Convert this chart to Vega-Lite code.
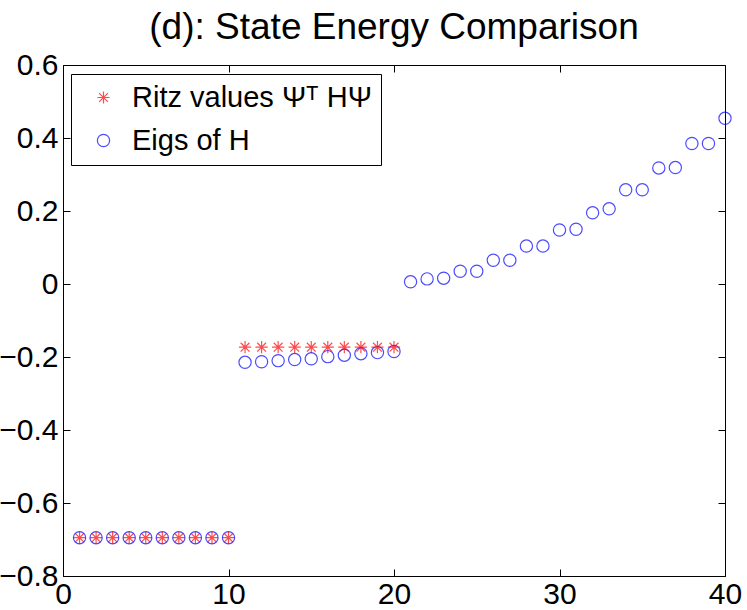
{
  "$schema": "https://vega.github.io/schema/vega-lite/v6.json",
  "width": 662,
  "height": 511,
  "autosize": {"type": "none"},
  "padding": {"left": 63, "top": 65, "right": 22, "bottom": 34},
  "background": "white",
  "title": {"text": "(d): State Energy Comparison", "fontSize": 37, "font": "Liberation Sans", "fontWeight": "normal", "color": "black", "offset": 3, "anchor": "middle"},
  "config": {
    "view": {"stroke": "black", "strokeWidth": 1},
    "font": "Liberation Sans",
    "axis": {"grid": false, "domainColor": "black", "tickColor": "black", "labelColor": "black", "labelFontSize": 30, "labelFont": "Liberation Sans", "tickSize": -7, "labelPadding": 12, "labelFlush": false, "labelOverlap": false, "title": null}
  },
  "data": {"values": [
    {"x": 1, "v": -0.695, "s": "Eigs of H"},
    {"x": 2, "v": -0.695, "s": "Eigs of H"},
    {"x": 3, "v": -0.695, "s": "Eigs of H"},
    {"x": 4, "v": -0.695, "s": "Eigs of H"},
    {"x": 5, "v": -0.695, "s": "Eigs of H"},
    {"x": 6, "v": -0.695, "s": "Eigs of H"},
    {"x": 7, "v": -0.695, "s": "Eigs of H"},
    {"x": 8, "v": -0.695, "s": "Eigs of H"},
    {"x": 9, "v": -0.695, "s": "Eigs of H"},
    {"x": 10, "v": -0.695, "s": "Eigs of H"},
    {"x": 11, "v": -0.2145, "s": "Eigs of H"},
    {"x": 12, "v": -0.213, "s": "Eigs of H"},
    {"x": 13, "v": -0.210, "s": "Eigs of H"},
    {"x": 14, "v": -0.207, "s": "Eigs of H"},
    {"x": 15, "v": -0.205, "s": "Eigs of H"},
    {"x": 16, "v": -0.199, "s": "Eigs of H"},
    {"x": 17, "v": -0.195, "s": "Eigs of H"},
    {"x": 18, "v": -0.191, "s": "Eigs of H"},
    {"x": 19, "v": -0.188, "s": "Eigs of H"},
    {"x": 20, "v": -0.185, "s": "Eigs of H"},
    {"x": 21, "v": 0.006, "s": "Eigs of H"},
    {"x": 22, "v": 0.014, "s": "Eigs of H"},
    {"x": 23, "v": 0.016, "s": "Eigs of H"},
    {"x": 24, "v": 0.035, "s": "Eigs of H"},
    {"x": 25, "v": 0.035, "s": "Eigs of H"},
    {"x": 26, "v": 0.065, "s": "Eigs of H"},
    {"x": 27, "v": 0.065, "s": "Eigs of H"},
    {"x": 28, "v": 0.104, "s": "Eigs of H"},
    {"x": 29, "v": 0.104, "s": "Eigs of H"},
    {"x": 30, "v": 0.148, "s": "Eigs of H"},
    {"x": 31, "v": 0.150, "s": "Eigs of H"},
    {"x": 32, "v": 0.195, "s": "Eigs of H"},
    {"x": 33, "v": 0.206, "s": "Eigs of H"},
    {"x": 34, "v": 0.258, "s": "Eigs of H"},
    {"x": 35, "v": 0.258, "s": "Eigs of H"},
    {"x": 36, "v": 0.318, "s": "Eigs of H"},
    {"x": 37, "v": 0.319, "s": "Eigs of H"},
    {"x": 38, "v": 0.385, "s": "Eigs of H"},
    {"x": 39, "v": 0.385, "s": "Eigs of H"},
    {"x": 40, "v": 0.454, "s": "Eigs of H"},
    {"x": 1, "v": -0.695, "s": "Ritz values Ψᵀ HΨ"},
    {"x": 2, "v": -0.695, "s": "Ritz values Ψᵀ HΨ"},
    {"x": 3, "v": -0.695, "s": "Ritz values Ψᵀ HΨ"},
    {"x": 4, "v": -0.695, "s": "Ritz values Ψᵀ HΨ"},
    {"x": 5, "v": -0.695, "s": "Ritz values Ψᵀ HΨ"},
    {"x": 6, "v": -0.695, "s": "Ritz values Ψᵀ HΨ"},
    {"x": 7, "v": -0.695, "s": "Ritz values Ψᵀ HΨ"},
    {"x": 8, "v": -0.695, "s": "Ritz values Ψᵀ HΨ"},
    {"x": 9, "v": -0.695, "s": "Ritz values Ψᵀ HΨ"},
    {"x": 10, "v": -0.695, "s": "Ritz values Ψᵀ HΨ"},
    {"x": 11, "v": -0.173, "s": "Ritz values Ψᵀ HΨ"},
    {"x": 12, "v": -0.173, "s": "Ritz values Ψᵀ HΨ"},
    {"x": 13, "v": -0.173, "s": "Ritz values Ψᵀ HΨ"},
    {"x": 14, "v": -0.173, "s": "Ritz values Ψᵀ HΨ"},
    {"x": 15, "v": -0.173, "s": "Ritz values Ψᵀ HΨ"},
    {"x": 16, "v": -0.173, "s": "Ritz values Ψᵀ HΨ"},
    {"x": 17, "v": -0.173, "s": "Ritz values Ψᵀ HΨ"},
    {"x": 18, "v": -0.173, "s": "Ritz values Ψᵀ HΨ"},
    {"x": 19, "v": -0.173, "s": "Ritz values Ψᵀ HΨ"},
    {"x": 20, "v": -0.173, "s": "Ritz values Ψᵀ HΨ"}
  ]},
  "layer": [
    {
      "mark": {"type": "point", "filled": false, "strokeWidth": 1.2, "size": 150},
      "encoding": {
        "x": {"field": "x", "type": "quantitative", "scale": {"domain": [0, 40], "nice": false, "zero": false}, "axis": {"values": [0, 10, 20, 30, 40], "orient": "bottom", "labelPadding": 10}},
        "y": {"field": "v", "type": "quantitative", "scale": {"domain": [-0.8, 0.6], "nice": false, "zero": false}, "axis": {"values": [-0.8, -0.6, -0.4, -0.2, 0, 0.2, 0.4, 0.6], "format": "~g", "orient": "left"}},
        "color": {"field": "s", "type": "nominal", "scale": {"domain": ["Ritz values Ψᵀ HΨ", "Eigs of H"], "range": ["#ff0000", "#0000ff"]},
          "legend": {"title": null, "orient": "none", "legendX": 8, "legendY": 9, "strokeColor": "black", "fillColor": "white", "padding": 9, "labelFontSize": 29, "labelFont": "Liberation Sans", "labelColor": "black", "symbolSize": 150, "symbolStrokeWidth": 1.2, "symbolOffset": 9, "labelOffset": 14, "rowPadding": 13, "labelLimit": 400}},
        "shape": {"field": "s", "type": "nominal", "scale": {"domain": ["Ritz values Ψᵀ HΨ", "Eigs of H"], "range": ["M-1,0L1,0M0,-1L0,1M-0.72,-0.72L0.72,0.72M-0.72,0.72L0.72,-0.72", "circle"]}, "legend": null}
      }
    },
    {
      "mark": {"type": "point", "opacity": 0},
      "encoding": {
        "x": {"field": "x", "type": "quantitative", "scale": {"domain": [0, 40], "nice": false, "zero": false}, "axis": {"values": [0, 10, 20, 30, 40], "orient": "top", "labels": false, "domain": false}},
        "y": {"field": "v", "type": "quantitative", "scale": {"domain": [-0.8, 0.6], "nice": false, "zero": false}, "axis": {"values": [-0.8, -0.6, -0.4, -0.2, 0, 0.2, 0.4, 0.6], "orient": "right", "labels": false, "domain": false}}
      }
    }
  ],
  "resolve": {"axis": {"x": "independent", "y": "independent"}}
}
